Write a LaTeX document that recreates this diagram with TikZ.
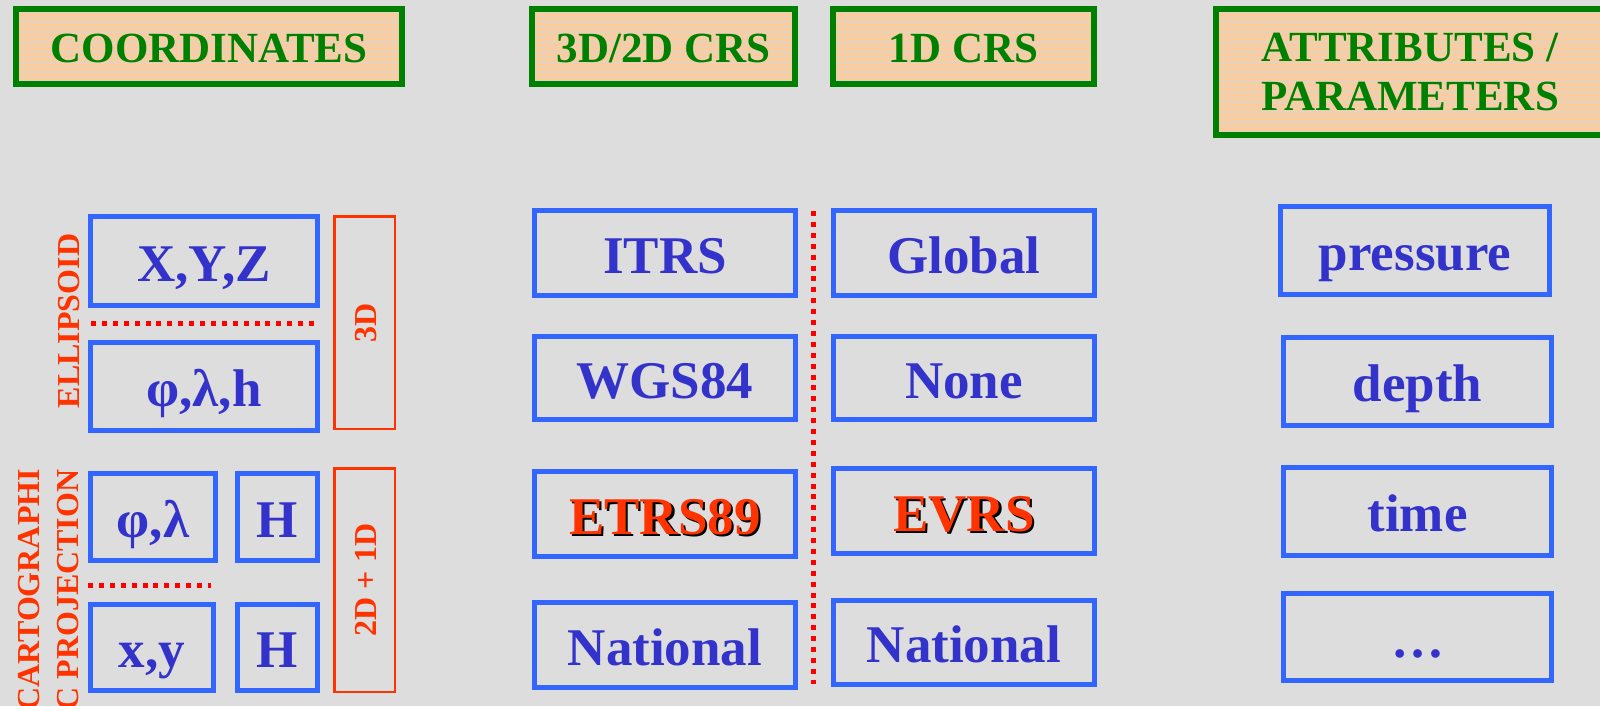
\documentclass[tikz,border=0pt]{standalone}
\usepackage{fontspec}
\setmainfont{Liberation Serif}
\definecolor{bg}{HTML}{DDDDDD}
\definecolor{hdrgreen}{HTML}{008000}
\definecolor{peach}{HTML}{FFCC99}
\definecolor{stripecol}{HTML}{D8D4CE}
\definecolor{boxblue}{HTML}{3366FF}
\definecolor{txtblue}{HTML}{3333CC}
\definecolor{lblred}{HTML}{FF3300}
\definecolor{dotred}{HTML}{FF0000}

% red text with a small black drop shadow
\newcommand\shadowed[1]{\leavevmode\rlap{\hskip1.1pt\raisebox{-1.1pt}{\textcolor{black}{#1}}}\textcolor{lblred}{#1}}

% box from outer corners (x1,y1)-(x2,y2) in px, border width in px
% #1 style, #2 name, #3 x1, #4 y1, #5 x2, #6 y2, #7 border px, #8 text
\newcommand\pbox[8]{%
  \node[#1, minimum width={(#5-#3-#7)*0.5pt}, minimum height={(#6-#4-#7)*0.5pt}]
    (#2) at ({(#3+#5)/2},{(#4+#6)/2}) {#8};}

\tikzset{
  hdrbox/.style={draw=hdrgreen, line width=3pt, fill=peach, text=hdrgreen,
    font=\bfseries\fontsize{21.5}{24.5}\selectfont, inner sep=0pt, outer sep=0pt,
    path picture={\foreach \k in {0,...,45}{
      \draw[stripecol, line width=0.5pt]
        ([yshift=-\k*1.667pt-0.6pt]path picture bounding box.north west) -- ++(300pt,0);}}},
  hdrline/.style={text height=16.3pt, text depth=0pt},
  bluebox/.style={draw=boxblue, line width=2.5pt, text=txtblue,
    font=\bfseries\fontsize{26.5}{30}\selectfont, text height=20pt, text depth=0pt,
    inner sep=0pt, outer sep=0pt},
  redbox/.style={draw=lblred, line width=1.25pt, text=lblred, rotate=90,
    font=\bfseries\fontsize{16}{19}\selectfont, text height=12.2pt, text depth=0pt,
    inner sep=0pt, outer sep=0pt},
  redlabel/.style={text=lblred, rotate=90, inner sep=0pt,
    font=\bfseries\fontsize{16}{19.5}\selectfont},
  sepline/.style={draw=dotred, line width=2.5pt, dash pattern=on 2.5pt off 2.95pt},
}

\begin{document}
\begin{tikzpicture}[x=0.5pt, y=-0.5pt]
  \fill[bg] (0,0) rectangle (1600,706);
  \useasboundingbox (0,0) rectangle (1600,706);

  % column headers
  \pbox{hdrbox,hdrline}{hcoord}{13}{6}{405}{87}{6}{COORDINATES}
  \pbox{hdrbox,hdrline}{hcrs}{529}{6}{798}{87}{6}{3D/2D CRS}
  \pbox{hdrbox,hdrline}{hvert}{830}{6}{1097}{87}{6}{1D CRS}
  \pbox{hdrbox,align=center}{hattr}{1213}{6}{1607}{138}{6}{ATTRIBUTES /\\PARAMETERS}

  % coordinates
  \pbox{bluebox}{xyz}{88}{214}{320}{308}{5}{X,Y,Z}
  \pbox{bluebox}{plh}{88}{340}{320}{433}{5}{φ,λ,h}
  \pbox{bluebox}{pl}{88}{471}{218}{563}{5}{φ,λ}
  \pbox{bluebox}{hup}{235}{471}{320}{563}{5}{H}
  \pbox{bluebox}{xy}{88}{602}{216}{693}{5}{x,y}
  \pbox{bluebox}{hlow}{235}{602}{320}{693}{5}{H}

  \node[redbox, minimum width={(430-215-2.5)*0.5pt}, minimum height={(396-333-2.5)*0.5pt}]
    (three) at (364.5,322.5) {3D};
  \node[redbox, minimum width={(693-467-2.5)*0.5pt}, minimum height={(396-333-2.5)*0.5pt}]
    (twoone) at (364.5,580) {2D + 1D};

  \node[redlabel, text height=12.2pt, text depth=0pt] (ell) at (67.5,321) {ELLIPSOID};
  \node[redlabel, align=center] (carto) at (48.5,590) {CARTOGRAPHI\\C PROJECTION};

  \coordinate (s1a) at (91,323);  \coordinate (s1b) at (319,323);
  \coordinate (s2a) at (88,585);  \coordinate (s2b) at (211,585);
  \draw[sepline] (s1a) -- (s1b);
  \draw[sepline] (s2a) -- (s2b);

  % 3D/2D and 1D reference systems
  \pbox{bluebox}{itrs}{532}{208}{798}{298}{5}{ITRS}
  \pbox{bluebox}{wgs}{532}{334}{798}{422}{5}{WGS84}
  \pbox{bluebox}{etrs}{532}{469}{798}{559}{5}{\shadowed{ETRS89}}
  \pbox{bluebox}{nath}{532}{600}{798}{690}{5}{National}
  \pbox{bluebox}{glob}{831}{208}{1097}{298}{5}{Global}
  \pbox{bluebox}{none}{831}{334}{1097}{422}{5}{None}
  \pbox{bluebox}{evrs}{831}{466}{1097}{556}{5}{\shadowed{EVRS}}
  \pbox{bluebox}{natv}{831}{598}{1097}{687}{5}{National}

  \coordinate (vsa) at (813,211);  \coordinate (vsb) at (813,684);
  \draw[sepline] (vsa) -- (vsb);

  % attributes
  \pbox{bluebox}{press}{1278}{204}{1552}{297}{5}{pressure}
  \pbox{bluebox}{depth}{1281}{335}{1554}{428}{5}{depth}
  \pbox{bluebox}{time}{1281}{465}{1554}{558}{5}{time}
  \pbox{bluebox}{more}{1281}{591}{1554}{683}{5}{…}
\end{tikzpicture}
\end{document}
